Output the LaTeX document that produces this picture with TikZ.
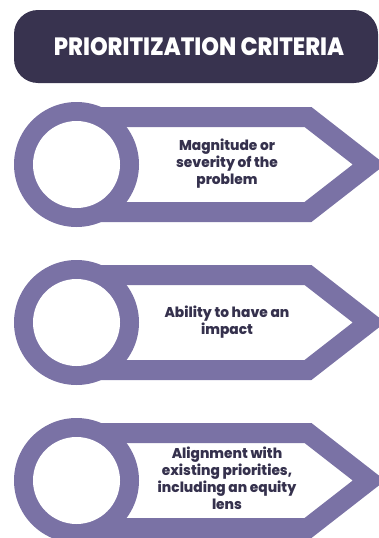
\documentclass[tikz,border=0pt]{standalone}
\usepackage{fontspec}
\setmainfont{Poppins}[BoldFont={* ExtraBold}]
\definecolor{navy}{HTML}{38334F}
\definecolor{lav}{HTML}{7A72A5}
\definecolor{ink}{HTML}{35314D}
\begin{document}
\begin{tikzpicture}[x=1pt,y=-1pt,
  titlebox/.style={fill=navy,rounded corners=24pt},
  arrowband/.style={draw=lav,line width=20pt,fill=white,line join=miter},
  ringout/.style={fill=lav},
  ringin/.style={fill=white},
  crit/.style={text=ink,font=\bfseries\fontsize{14.2}{17}\selectfont,align=center}]
\useasboundingbox (0,0) rectangle (379,538);
\fill[titlebox] (14,10) rectangle (378,83);
\node[text=white,font=\bfseries\fontsize{25}{28}\selectfont] (title) at (199,46.5) {\scalebox{0.9}[1]{PRIORITIZATION CRITERIA}};
\foreach \cy/\nm/\txt in {164.5/a/{Magnitude or\\severity of the\\problem},322.5/b/{Ability to have an\\impact},480.5/c/{Alignment with\\existing priorities,\\including an equity\\lens}}{
  \draw[arrowband] (76,\cy-47.5) -- (308,\cy-47.5) -- (369,\cy) -- (308,\cy+47.5) -- (76,\cy+47.5) -- cycle;
  \fill[ringout] (76.5,\cy) circle (62.5);
  \fill[ringin] (76.5,\cy) circle (43.5);
  \node[crit] (\nm) at (227,\cy) {\scalebox{0.97}[1]{\begin{tabular}{@{}c@{}}\txt\end{tabular}}};
}
\end{tikzpicture}
\end{document}
